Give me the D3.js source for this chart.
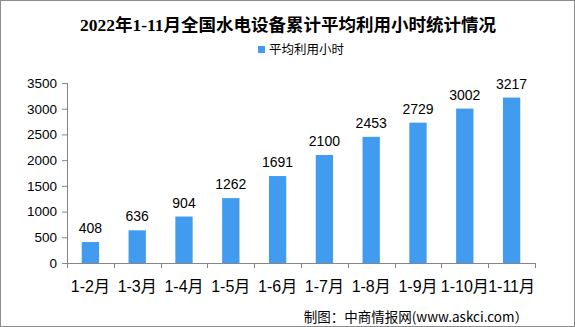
<!DOCTYPE html>
<html>
<head>
<meta charset="utf-8">
<script src="https://cdn.jsdelivr.net/npm/d3@7"></script>
<style>
  body { margin: 0; background: #fff; }
  svg { display: block; }
  .axis path, .axis line { stroke: #868686; }
  .axis text { fill: #000; }
</style>
</head>
<body>
<svg id="chart" width="575" height="327"></svg>
<script>
// données
var months = ["1-2月", "1-3月", "1-4月", "1-5月", "1-6月", "1-7月", "1-8月", "1-9月", "1-10月", "1-11月"];
var hours = [408, 636, 904, 1262, 1691, 2100, 2453, 2729, 3002, 3217];
var yTicks = [0, 500, 1000, 1500, 2000, 2500, 3000, 3500];

var svg = d3.select("#chart"),
    margin = { top: 83, right: 40, bottom: 64, left: 67 },
    width = +svg.attr("width") - margin.left - margin.right,
    height = +svg.attr("height") - margin.top - margin.bottom;

// cadre
svg.append("rect")
    .attr("x", 0.5).attr("y", 0.5)
    .attr("width", 574).attr("height", 326)
    .attr("fill", "#fff").attr("stroke", "#8c8c8c");

// titre
svg.append("text")
    .attr("x", 288).attr("y", 31)
    .attr("text-anchor", "middle")
    .style("font-family", "'Liberation Serif', 'Noto Sans CJK SC', serif")
    .style("font-weight", "bold")
    .style("font-size", "17.5px")
    .text("2022年1-11月全国水电设备累计平均利用小时统计情况");

// légende
var legend = svg.append("g").attr("transform", "translate(258,46)");
legend.append("rect").attr("width", 7).attr("height", 7).attr("fill", "#419cf0");
legend.append("text")
    .attr("x", 11).attr("y", 8)
    .style("font-family", "'Noto Sans CJK SC', sans-serif")
    .style("font-size", "12.5px")
    .text("平均利用小时");

var x = d3.scaleBand().domain(months).range([0, width]).paddingInner(0.63).paddingOuter(0.315);
var xTicks = d3.scaleBand().domain(months).range([0, width]);
var y = d3.scaleLinear().domain([0, 3500]).range([height, 0]);

var g = svg.append("g")
    .attr("transform", "translate(" + margin.left + "," + margin.top + ")");

// axe y
g.append("g")
    .attr("class", "axis")
    .call(d3.axisLeft(y).tickValues(yTicks).tickFormat(d3.format("d")).tickSize(5).tickPadding(5))
    .call(function (a) { a.select(".domain").attr("d", "M0.5," + height + "V0"); })
    .selectAll("text")
    .style("font-family", "'Liberation Sans', sans-serif")
    .style("font-size", "13.5px");

// barres
g.selectAll(".bar")
    .data(hours)
    .enter().append("rect")
    .attr("class", "bar")
    .attr("x", function (d, i) { return x(months[i]); })
    .attr("width", x.bandwidth())
    .attr("y", function (d) { return y(d); })
    .attr("height", function (d) { return height - y(d); })
    .attr("fill", "#419cf0");

// étiquettes
g.selectAll(".lbl")
    .data(hours)
    .enter().append("text")
    .attr("class", "lbl")
    .attr("x", function (d, i) { return x(months[i]) + x.bandwidth() / 2; })
    .attr("y", function (d) { return y(d) - 9; })
    .attr("text-anchor", "middle")
    .style("font-family", "'Liberation Sans', sans-serif")
    .style("font-size", "14px")
    .text(function (d) { return d; });

// axe x
var xa = g.append("g")
    .attr("class", "axis")
    .attr("transform", "translate(0," + height + ")");
xa.append("line").attr("x1", 0).attr("x2", width).attr("y1", 0.5).attr("y2", 0.5).attr("stroke", "#868686");
xa.selectAll(".tk")
    .data(months.concat([null]))
    .enter().append("line")
    .attr("class", "tk")
    .attr("x1", function (d, i) { return Math.round(i * xTicks.step()) + 0.5; })
    .attr("x2", function (d, i) { return Math.round(i * xTicks.step()) + 0.5; })
    .attr("y1", 0).attr("y2", 5)
    .attr("stroke", "#868686");
xa.selectAll(".xl")
    .data(months)
    .enter().append("text")
    .attr("class", "xl")
    .attr("x", function (d) { return xTicks(d) + xTicks.bandwidth() / 2; })
    .attr("y", 29)
    .attr("text-anchor", "middle")
    .style("font-family", "'Liberation Sans', 'Noto Sans CJK SC', sans-serif")
    .style("font-size", "16px")
    .text(function (d) { return d; });

// source
svg.append("text")
    .attr("x", 528).attr("y", 322)
    .attr("text-anchor", "end")
    .style("font-family", "'Noto Sans CJK SC', sans-serif")
    .style("font-size", "13.5px")
    .text("制图：中商情报网(www.askci.com）");
</script>
</body>
</html>
